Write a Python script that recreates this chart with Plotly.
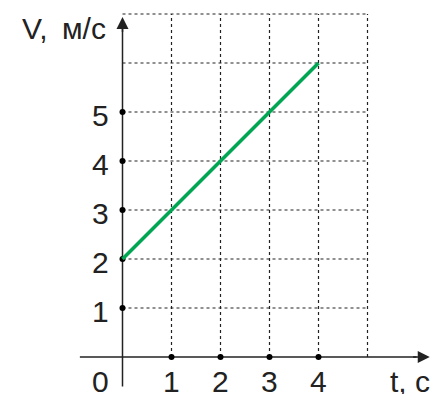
import plotly.graph_objects as go

# data
t_values = [0, 4]
v_values = [2, 6]
x_ticks = [1, 2, 3, 4]
y_ticks = [1, 2, 3, 4, 5]
x_tick_labels = ["1", "2", "3", "4"]
y_tick_labels = ["1", "2", "3", "4", "5"]
grid_x = [1, 2, 3, 4, 5]
grid_y = [1, 2, 3, 4, 5, 6, 7]
x_title = "t, с"
y_title = "V, \u2009м/с"

fig = go.Figure()

# dotted grid
gx, gy = [], []
for x in grid_x:
    gx += [x, x, None]
    gy += [0, 7, None]
for y in grid_y:
    gx += [0, 5, None]
    gy += [y, y, None]
fig.add_trace(go.Scatter(x=gx, y=gy, mode="lines",
                         line=dict(color="#222", width=1.2, dash="dot"),
                         hoverinfo="skip", showlegend=False))

# axes lines
fig.add_trace(go.Scatter(x=[-0.87, 6.0], y=[0, 0], mode="lines",
                         line=dict(color="#222", width=1.5), showlegend=False, hoverinfo="skip"))
fig.add_trace(go.Scatter(x=[0, 0], y=[-0.6, 6.7], mode="lines",
                         line=dict(color="#222", width=1.5), showlegend=False, hoverinfo="skip"))

# arrowheads
fig.add_annotation(x=6.27, y=0, ax=5.9, ay=0, xref="x", yref="y", axref="x", ayref="y",
                   showarrow=True, arrowhead=2, arrowsize=1.6, arrowwidth=1.5, arrowcolor="#222", text="")
fig.add_annotation(x=0, y=6.94, ax=0, ay=6.6, xref="x", yref="y", axref="x", ayref="y",
                   showarrow=True, arrowhead=2, arrowsize=1.6, arrowwidth=1.5, arrowcolor="#222", text="")

# tick dots
fig.add_trace(go.Scatter(x=x_ticks + [0] * len(y_ticks), y=[0] * len(x_ticks) + y_ticks,
                         mode="markers", marker=dict(color="black", size=6),
                         showlegend=False, hoverinfo="skip"))

# green line
fig.add_trace(go.Scatter(x=t_values, y=v_values, mode="lines",
                         line=dict(color="#00a651", width=3.5), showlegend=False))

font = dict(family="Liberation Sans, Arial, sans-serif", size=30, color="#222")
for x, lab in zip(x_ticks, x_tick_labels):
    fig.add_annotation(x=x, y=-0.5, text=lab, showarrow=False, font=font, xref="x", yref="y")
for y, lab in zip(y_ticks, y_tick_labels):
    fig.add_annotation(x=-0.45, y=y - 0.08, text=lab, showarrow=False, font=font, xref="x", yref="y")
fig.add_annotation(x=-0.45, y=-0.5, text="0", showarrow=False, font=font, xref="x", yref="y")
fig.add_annotation(x=5.87, y=-0.5, text=x_title, showarrow=False, font=font, xref="x", yref="y")
fig.add_annotation(x=-1.2, y=6.70, text=y_title, showarrow=False, font=font, xref="x", yref="y")

px0, py0 = 114.5, 349.0  # pixel position of origin inside the figure
unit = 49.0
fig.update_layout(
    width=445, height=394,
    margin=dict(l=0, r=0, t=0, b=0),
    plot_bgcolor="white", paper_bgcolor="white",
    xaxis=dict(range=[-px0 / unit, (445 - px0) / unit], visible=False, fixedrange=True),
    yaxis=dict(range=[(py0 - 394) / unit, py0 / unit], visible=False, fixedrange=True),
)

fig.write_html("out.html")
